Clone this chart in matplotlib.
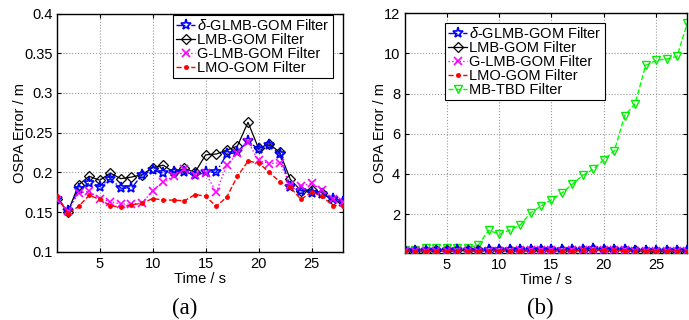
import matplotlib
matplotlib.use("Agg")
import matplotlib.pyplot as plt
import numpy as np

plt.rcParams['font.family'] = ['Liberation Sans', 'DejaVu Sans']
plt.rcParams['mathtext.fontset'] = 'custom'
plt.rcParams['mathtext.it'] = 'Liberation Sans:italic'
plt.rcParams['mathtext.rm'] = 'Liberation Sans'

time = list(range(1, 29))

glmb = [0.167, 0.151, 0.179, 0.186, 0.182, 0.192, 0.180, 0.180, 0.197, 0.203,
        0.199, 0.200, 0.201, 0.196, 0.200, 0.200, 0.223, 0.225, 0.2395, 0.229,
        0.234, 0.223, 0.181, 0.177, 0.174, 0.173, 0.166, 0.163]
lmb = [0.167, 0.150, 0.184, 0.195, 0.190, 0.199, 0.192, 0.194, 0.197, 0.206,
       0.209, 0.200, 0.205, 0.200, 0.222, 0.223, 0.228, 0.233, 0.263, 0.230,
       0.236, 0.225, 0.191, 0.177, 0.178, 0.174, 0.165, 0.163]
glmb_g = [0.165, 0.151, 0.174, 0.176, 0.167, 0.163, 0.160, 0.160, 0.161, 0.177,
          0.188, 0.195, 0.204, 0.197, 0.199, 0.175, 0.209, 0.224, 0.238, 0.215,
          0.211, 0.212, 0.184, 0.183, 0.186, 0.178, 0.166, 0.163]
lmo = [0.170, 0.148, 0.157, 0.171, 0.166, 0.158, 0.156, 0.159, 0.161, 0.167,
       0.165, 0.165, 0.164, 0.172, 0.170, 0.157, 0.169, 0.195, 0.214, 0.212,
       0.200, 0.188, 0.181, 0.166, 0.175, 0.170, 0.158, 0.158]
mbtbd = [0.20, 0.20, 0.30, 0.30, 0.30, 0.30, 0.30, 0.46, 1.20, 1.00,
         1.20, 1.45, 2.06, 2.40, 2.72, 3.05, 3.49, 3.93, 4.23, 4.71,
         5.14, 6.90, 7.50, 9.40, 9.65, 9.72, 9.85, 11.53]

labels = [r'$\delta$-GLMB-GOM Filter', 'LMB-GOM Filter', 'G-LMB-GOM Filter',
          'LMO-GOM Filter', 'MB-TBD Filter']

FS = 10.5
fig = plt.figure(figsize=(6.89, 3.20), dpi=100)
ax1 = fig.add_axes([0.0832, 0.2134, 0.4151, 0.7444])
ax2 = fig.add_axes([0.5878, 0.2103, 0.4100, 0.7485])


def draw(ax, with_tbd):
    ax.plot(time, glmb, color='blue', ls='-.', lw=1.0, marker='*', ms=8,
            mfc='none', mec='blue', mew=1.2, label=labels[0], zorder=4)
    ax.plot(time, lmb, color='black', ls='-', lw=0.9, marker='D', ms=5,
            mfc='none', mec='black', mew=0.9, label=labels[1], zorder=3)
    ax.plot(time, glmb_g, color='magenta', ls=':', lw=1.0, marker='x', ms=6,
            mew=1.2, label=labels[2], zorder=5)
    ax.plot(time, lmo, color='red', ls='--', lw=1.0, marker='.', ms=5,
            label=labels[3], zorder=6)
    if with_tbd:
        ax.plot(time, mbtbd, color='#00ff00', ls='--', lw=1.0, marker='v', ms=6,
                mfc='none', mec='#00ee00', mew=1.0, label=labels[4], zorder=2)
    ax.set_xlim(1, 28)
    ax.set_xticks([5, 10, 15, 20, 25])
    ax.grid(True, ls=':', color='#999999', lw=0.8)
    ax.tick_params(direction='in', labelsize=FS, length=3, top=True, right=True)
    ax.set_xlabel('Time / s', fontsize=FS, labelpad=1)
    ax.set_ylabel('OSPA Error / m', fontsize=FS, labelpad=-2)
    for s in ax.spines.values():
        s.set_linewidth(1.0)


draw(ax1, False)
ax1.set_ylim(0.1, 0.4)
ax1.set_yticks([0.1, 0.15, 0.2, 0.25, 0.3, 0.35, 0.4])
ax1.set_yticklabels(['0.1', '0.15', '0.2', '0.25', '0.3', '0.35', '0.4'])
leg1 = ax1.legend(loc='upper right', bbox_to_anchor=(0.963, 0.995), fontsize=FS,
                  handlelength=1.3, handletextpad=0.15, borderpad=0.2,
                  labelspacing=0.0, fancybox=False, framealpha=1,
                  edgecolor='black', borderaxespad=0)
leg1.get_frame().set_linewidth(0.8)

draw(ax2, True)
ax2.set_ylim(0.08, 12)
ax2.set_yticks([2, 4, 6, 8, 10, 12])
leg2 = ax2.legend(loc='upper left', bbox_to_anchor=(0.142, 0.96), fontsize=FS,
                  handlelength=1.3, handletextpad=0.15, borderpad=0.2,
                  labelspacing=0.0, fancybox=False, framealpha=1,
                  edgecolor='black', borderaxespad=0)
leg2.get_frame().set_linewidth(0.8)

fig.text(0.268, 0.018, '(a)', fontsize=16.5, family='Liberation Serif', ha='center')
fig.text(0.784, 0.018, '(b)', fontsize=16.5, family='Liberation Serif', ha='center')

fig.savefig('out.png', dpi=100)
